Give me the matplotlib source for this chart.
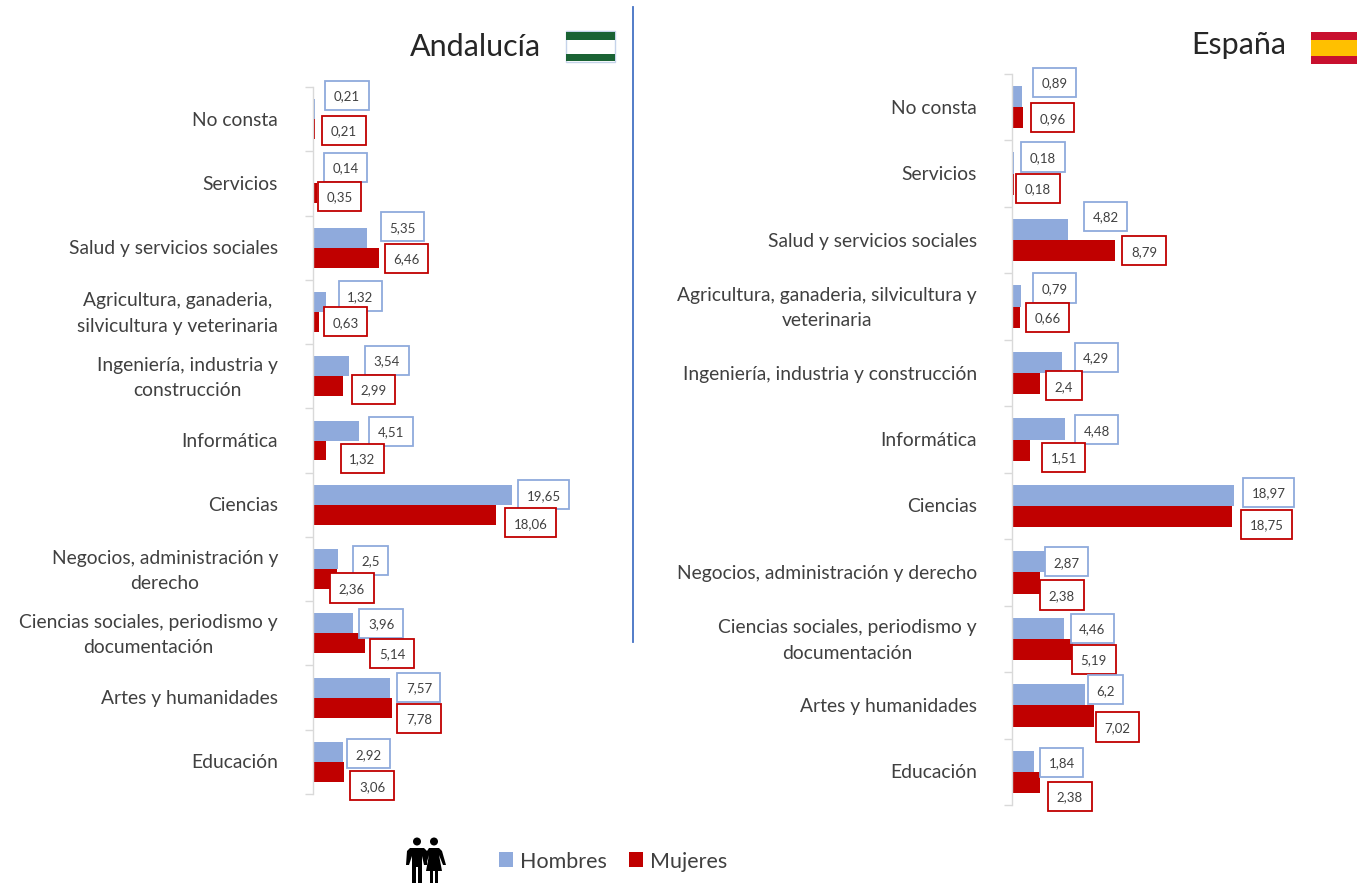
import matplotlib
matplotlib.use('Agg')
from matplotlib import pyplot as plt
from matplotlib.patches import Rectangle, Circle, Polygon
from matplotlib.transforms import ScaledTranslation

plt.rcParams['font.family'] = ['Lato', 'DejaVu Sans']

## data
cat_and = ['No consta', 'Servicios', 'Salud y servicios sociales',
           'Agricultura, ganaderia,\nsilvicultura y veterinaria',
           'Ingeniería, industria y\nconstrucción', 'Informática', 'Ciencias',
           'Negocios, administración y\nderecho',
           'Ciencias sociales, periodismo y\ndocumentación',
           'Artes y humanidades', 'Educación']
cat_esp = ['No consta', 'Servicios', 'Salud y servicios sociales',
           'Agricultura, ganaderia, silvicultura y\nveterinaria',
           'Ingeniería, industria y construcción', 'Informática', 'Ciencias',
           'Negocios, administración y derecho',
           'Ciencias sociales, periodismo y\ndocumentación',
           'Artes y humanidades', 'Educación']

hombres_and = [0.21, 0.14, 5.35, 1.32, 3.54, 4.51, 19.65, 2.5, 3.96, 7.57, 2.92]
mujeres_and = [0.21, 0.35, 6.46, 0.63, 2.99, 1.32, 18.06, 2.36, 5.14, 7.78, 3.06]
hombres_esp = [0.89, 0.18, 4.82, 0.79, 4.29, 4.48, 18.97, 2.87, 4.46, 6.2, 1.84]
mujeres_esp = [0.96, 0.18, 8.79, 0.66, 2.4, 1.51, 18.75, 2.38, 5.19, 7.02, 2.38]

## label offsets from bar end, in pixels (dy down)
off_h_and = [(32, -14), (31, -6), (35, -11), (34, -6), (38, -6), (32, 1), (31, 0), (32, 1), (28, 0), (29, 0), (26, 2)]
off_m_and = [(29, 1), (23, 3), (28, 1), (26, 0), (30, 3), (36, 8), (34, 8), (15, 9), (27, 10), (27, 11), (28, 14)]
off_h_esp = [(32, -14), (29, -6), (37, -13), (33, -8), (34, -5), (32, 1), (34, -3), (21, 0), (28, 0), (21, -5), (28, 1)]
off_m_esp = [(29, 0), (24, 4), (29, 0), (28, 0), (24, 2), (34, 7), (35, 8), (22, 12), (21, 10), (23, 11), (30, 14)]

AZUL = '#8faadc'
ROJO = '#c00000'
W, H = 1357, 887


def fmt(v):
    return str(v).replace('.', ',')


def panel(fig, x0, top, bottom, px_unit, cats, hom, muj, off_h, off_m, bar_h):
    # axes placed in pixels, 30 units wide
    ax = fig.add_axes([x0 / W, (H - bottom) / H, 30 * px_unit / W, (bottom - top) / H])
    n = len(cats)
    pos = list(range(n))
    b1 = ax.barh([p - bar_h / 2 for p in pos], hom, height=bar_h, color=AZUL)
    b2 = ax.barh([p + bar_h / 2 for p in pos], muj, height=bar_h, color=ROJO)
    ax.set_xlim(0, 30)
    ax.set_ylim(n - 0.5, -0.5)
    ax.xaxis.set_visible(False)
    for s in ['top', 'right', 'bottom']:
        ax.spines[s].set_visible(False)
    ax.spines['left'].set_color('#d9d9d9')
    ax.spines['left'].set_linewidth(1.0)
    ax.set_yticks([i - 0.5 for i in range(n + 1)])
    ax.set_yticklabels([])
    ax.tick_params(axis='y', which='major', length=5.5, color='#d9d9d9', width=1.0)
    ax.set_yticks(pos, minor=True)
    ax.set_yticklabels(cats, minor=True, fontsize=13.9, color='#404040', ma='center',
                       linespacing=1.6)
    ax.tick_params(axis='y', which='minor', length=0, pad=25.2)
    # nudge the labels up a little, two line ones more
    for lab in ax.get_yticklabels(minor=True):
        up = 5 if '\n' in lab.get_text() else 1.5
        lab.set_transform(lab.get_transform() + ScaledTranslation(0, up / 100, fig.dpi_scale_trans))
    ax.patch.set_alpha(0)

    for i in range(n):
        for val, off, y, col in ((hom[i], off_h[i], i - bar_h / 2, AZUL),
                                 (muj[i], off_m[i], i + bar_h / 2, ROJO)):
            ax.annotate(fmt(val), xy=(val, y), xytext=(off[0], -off[1]),
                        textcoords='offset pixels', ha='center', va='center',
                        fontsize=9.5, color='#404040', annotation_clip=False,
                        bbox=dict(boxstyle='square,pad=0.65', fc='white', ec=col, lw=1.3))
    return b1, b2


fig = plt.figure(figsize=(W / 100, H / 100), dpi=100, facecolor='white')

b1, b2 = panel(fig, 313, 88, 795, 10.15, cat_and, hombres_and, mujeres_and, off_h_and, off_m_and, 0.31)
panel(fig, 1012, 75, 806, 11.72, cat_esp, hombres_esp, mujeres_esp, off_h_esp, off_m_esp, 0.32)

## overlay in pixel coords: titles, flags, divider, icon
ov = fig.add_axes([0, 0, 1, 1], zorder=5)
ov.set_xlim(0, W)
ov.set_ylim(H, 0)
ov.axis('off')

ov.plot([633, 633], [8, 643], color='#4472c4', lw=1.3)
ov.text(475, 47, 'Andalucía', fontsize=22, color='#262626', ha='center', va='center')
ov.text(1238.5, 45, 'España', fontsize=22, color='#262626', ha='center', va='center')

# flag of Andalucia
ov.add_patch(Rectangle((566, 32), 49, 31, fc='white', ec='#c5d3ea', lw=1))
ov.add_patch(Rectangle((566, 33), 49, 7.5, fc='#1a6334', lw=0))
ov.add_patch(Rectangle((566, 55), 49, 7, fc='#1a6334', lw=0))
# flag of Spain
ov.add_patch(Rectangle((1311, 33), 46, 8, fc='#c8102e', lw=0))
ov.add_patch(Rectangle((1311, 41), 46, 16, fc='#ffc000', lw=0))
ov.add_patch(Rectangle((1311, 57), 46, 8, fc='#c8102e', lw=0))

# people icon
ov.add_patch(Circle((417, 842.5), 4, fc='black', lw=0))
ov.add_patch(Polygon([(410, 849), (424, 849), (427, 852), (427, 866), (424, 866), (422, 857),
                      (422, 884), (418, 884), (418, 868), (416, 868), (416, 884), (412, 884),
                      (412, 857), (409, 866), (406, 866), (407, 852)], fc='black', lw=0))
ov.add_patch(Circle((434, 842.5), 4, fc='black', lw=0))
ov.add_patch(Polygon([(429, 849), (439, 849), (442, 852), (446, 866), (443, 866), (439, 856),
                      (442, 872), (438, 872), (438, 884), (435, 884), (435, 872), (433, 872),
                      (433, 884), (430, 884), (430, 872), (426, 872), (429, 856), (426, 866),
                      (425, 864), (427, 852)], fc='black', lw=0))

## legend
fig.legend([b1, b2], ['Hombres', 'Mujeres'], ncol=2, frameon=False, fontsize=15.5,
           loc='center', bbox_to_anchor=(613 / W, 1 - 862 / H), handlelength=0.65,
           handleheight=0.65, handletextpad=0.33, columnspacing=1.05, labelcolor='#404040')

fig.savefig('out.png', dpi=100)
